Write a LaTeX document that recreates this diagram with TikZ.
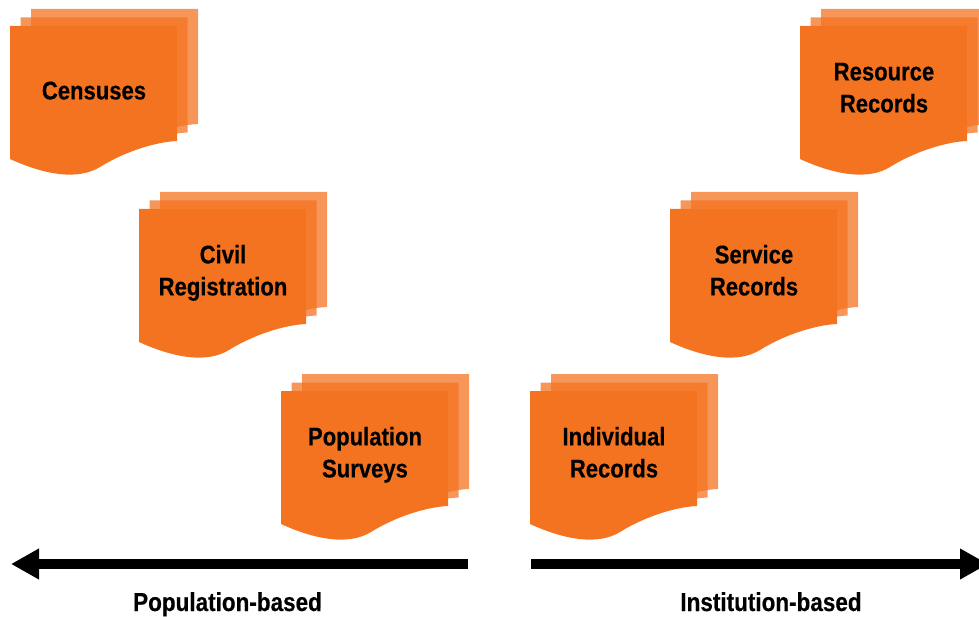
\documentclass[tikz,border=0pt]{standalone}
\usepackage{fontspec}
\setmainfont{Liberation Sans}
\newfontfamily\narrowbold[FakeStretch=0.865,FakeBold=0.35]{Liberation Sans Bold}
\usetikzlibrary{arrows.meta}
\definecolor{docorange}{HTML}{F47321}
\tikzset{
  x=1pt,y=-1pt,
  doclabel/.style={font=\narrowbold\fontsize{25.5}{32}\selectfont,align=center,text=black,inner sep=0pt},
  baselabel/.style={font=\narrowbold\fontsize{26}{30}\selectfont,text=black,inner sep=0pt},
  backsheet/.style={fill=docorange,fill opacity=.75,draw=none},
  frontsheet/.style={fill=docorange,draw=none},
  axisarrow/.style={draw=black,line width=10pt,-{Triangle[length=28pt,width=29pt]}}
}
\newcommand{\sheetpath}[3][]{%
  \path[#1] (#2,#3) -- (#2+167,#3) -- (#2+167,#3+115)
    .. controls (#2+145,#3+116) and (#2+114,#3+126) .. (#2+90,#3+141)
    .. controls (#2+68,#3+154.5) and (#2+35,#3+149) .. (#2,#3+133) -- cycle;}
\newcommand{\docstack}[5]{%
  \sheetpath[backsheet]{#1+21}{#2-17}
  \sheetpath[backsheet]{#1+10.5}{#2-8.5}
  \sheetpath[frontsheet]{#1}{#2}
  \node[doclabel] (#3) at (#1+84,#2+#4) {#5};}
\begin{document}
\begin{tikzpicture}
\useasboundingbox (0,0) rectangle (979,617);
\clip (0,0) rectangle (979,617);
\docstack{10}{26}{censuses}{67}{\strut Censuses\strut}
\docstack{139}{209}{civil}{64}{\strut Civil\strut\\\strut Registration\strut}
\docstack{281}{391}{surveys}{64}{\strut Population\strut\\\strut Surveys\strut}
\docstack{530}{391}{individual}{64}{\strut Individual\strut\\\strut Records\strut}
\docstack{670}{209}{service}{64}{\strut Service\strut\\\strut Records\strut}
\docstack{800}{26}{resource}{64}{\strut Resource\strut\\\strut Records\strut}
\coordinate (la) at (468,564);
\coordinate (lb) at (11,564);
\coordinate (ra) at (531,564);
\coordinate (rb) at (988,564);
\draw[axisarrow] (la) -- (lb);
\draw[axisarrow] (ra) -- (rb);
\node[baselabel] (popbased) at (227.5,605) {\strut Population-based\strut};
\node[baselabel] (instbased) at (771,605) {\strut Institution-based\strut};
\end{tikzpicture}
\end{document}
